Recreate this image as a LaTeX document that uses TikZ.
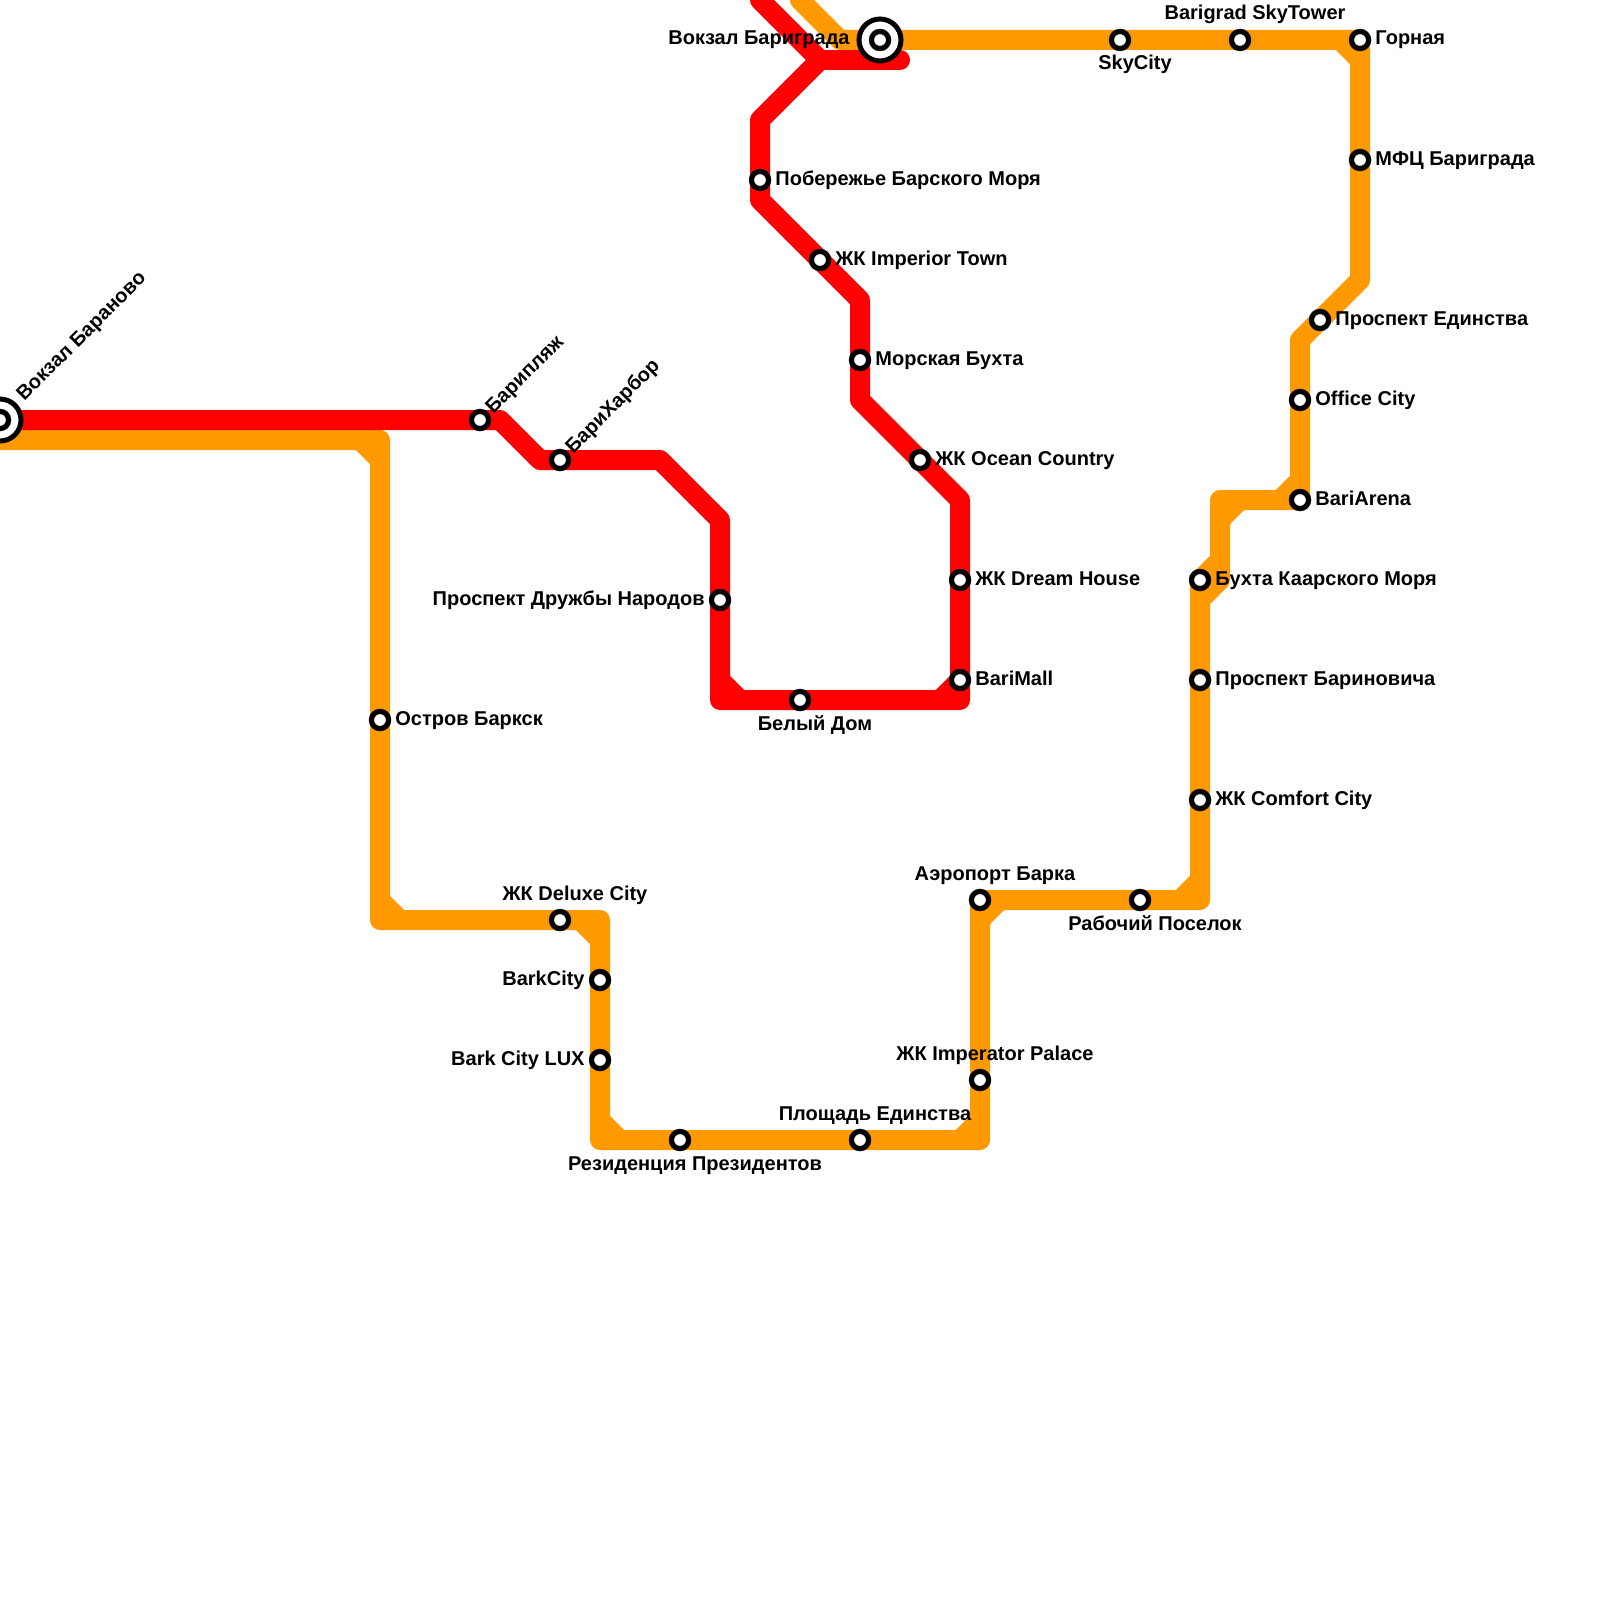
\documentclass[tikz,border=0pt]{standalone}
\usepackage{fontspec}
\setmainfont{Liberation Sans}
\usetikzlibrary{backgrounds}
\definecolor{lineorange}{HTML}{FF9900}
\definecolor{linered}{HTML}{FF0000}
\tikzset{
  x=0.5pt,y=-0.5pt,
  stn/.style={circle,draw=black,fill=white,line width=2.6pt,minimum size=8.6pt,inner sep=0pt},
  hub/.style={circle,draw=black,fill=white,line width=2.5pt,minimum size=21pt,inner sep=0pt},
  metro/.style={line width=10pt,line cap=round,line join=round},
  redline/.style={metro,draw=linered},
  orangeline/.style={metro,draw=lineorange},
  chamfer/.style={line width=10pt,line cap=butt,line join=round},
  lbl/.style={font=\bfseries\fontsize{10}{12}\selectfont,text=black,inner sep=0pt},
  lr/.style={lbl,anchor=base west,xshift=7.5pt,yshift=-2.5pt},
  ll/.style={lbl,anchor=base east,xshift=-7.5pt,yshift=-2.5pt},
  la/.style={lbl,anchor=base,xshift=7.5pt,yshift=10pt},
  lb/.style={lbl,anchor=base,xshift=7.5pt,yshift=-15pt},
  ld/.style={lbl,anchor=base west,xshift=6.5pt,yshift=2.75pt,rotate=45},
  ldhub/.style={lbl,anchor=base west,xshift=12pt,yshift=9pt,rotate=45},
}
\begin{document}
\begin{tikzpicture}
\useasboundingbox (0,0) rectangle (1600,1600);
% stations
\node[hub] (baranovoO) at (0,420) {};
\node[stn] (baranovo) at (0,420) {};
\node[stn] (baripl) at (480,420) {};
\node[stn] (barihar) at (560,460) {};
\node[stn] (druzhby) at (720,600) {};
\node[stn] (belyi) at (800,700) {};
\node[stn] (barimall) at (960,680) {};
\node[stn] (dream) at (960,580) {};
\node[stn] (ocean) at (920,460) {};
\node[stn] (morsk) at (860,360) {};
\node[stn] (imperior) at (820,260) {};
\node[stn] (pober) at (760,180) {};
\node[hub] (barigrO) at (880,40) {};
\node[stn] (barigr) at (880,40) {};
\node[stn] (sky) at (1120,40) {};
\node[stn] (tower) at (1240,40) {};
\node[stn] (gorn) at (1360,40) {};
\node[stn] (mfc) at (1360,160) {};
\node[stn] (edin) at (1320,320) {};
\node[stn] (office) at (1300,400) {};
\node[stn] (arena) at (1300,500) {};
\node[stn] (buhta) at (1200,580) {};
\node[stn] (barinov) at (1200,680) {};
\node[stn] (comfort) at (1200,800) {};
\node[stn] (raboch) at (1140,900) {};
\node[stn] (aero) at (980,900) {};
\node[stn] (palace) at (980,1080) {};
\node[stn] (plosh) at (860,1140) {};
\node[stn] (rezid) at (680,1140) {};
\node[stn] (lux) at (600,1060) {};
\node[stn] (barkc) at (600,980) {};
\node[stn] (deluxe) at (560,920) {};
\node[stn] (ostrov) at (380,720) {};
% way points
\foreach \n/\p in {
  r1/{500,420},r2/{540,460},r3/{660,460},r4/{720,520},r5/{720,700},r6/{960,700},
  r7/{960,500},r8/{860,400},r9/{860,300},r10/{760,200},r11/{760,120},r12/{820,60},
  r13/{760,0},r14/{900,60},rc1/{720,680},rc2/{740,700},rc3/{940,700},rc4/{960,680},
  o0/{0,440},o1/{380,440},o2/{380,920},o3/{600,920},o4/{600,1140},o5/{980,1140},
  o6/{980,900},o7/{1200,900},o8/{1200,600},o9/{1220,580},o10/{1220,500},o11/{1300,480},
  o12/{1300,340},o13/{1360,280},o14/{1360,40},o15/{840,40},o16/{800,0},
  c1/{360,440},c2/{380,460},c3/{380,900},c4/{400,920},c5/{580,920},c6/{600,940},
  c7/{600,1120},c8/{620,1140},c9/{960,1140},c10/{980,1120},c11/{980,920},c12/{1000,900},
  c13/{1180,900},c14/{1200,880},c15/{1220,520},c16/{1240,500},c17/{1280,500},c18/{1300,480},
  c19/{1340,40},c20/{1360,60},c21/{1200,580},c22/{1220,560}}
  {\coordinate (\n) at (\p);}
\begin{pgfonlayer}{background}
\fill[white] (0,0) rectangle (1600,1600);
% orange line
\draw[orangeline] (o0) -- (o1) -- (ostrov.center) -- (o2) -- (deluxe.center) -- (o3) -- (barkc.center) -- (lux.center) -- (o4) -- (rezid.center) -- (plosh.center) -- (o5) -- (palace.center) -- (aero.center) -- (raboch.center) -- (o7) -- (comfort.center) -- (barinov.center) -- (buhta.center) -- (o8) -- (o9) -- (o10) -- (arena.center) -- (o11) -- (office.center) -- (o12) -- (edin.center) -- (o13) -- (mfc.center) -- (gorn.center) -- (tower.center) -- (sky.center) -- (barigr.center) -- (o15) -- (o16);
\draw[chamfer,lineorange] (c1) -- (c2);
\draw[chamfer,lineorange] (c3) -- (c4);
\draw[chamfer,lineorange] (c5) -- (c6);
\draw[chamfer,lineorange] (c7) -- (c8);
\draw[chamfer,lineorange] (c9) -- (c10);
\draw[chamfer,lineorange] (c11) -- (c12);
\draw[chamfer,lineorange] (c13) -- (c14);
\draw[chamfer,lineorange] (c15) -- (c16);
\draw[chamfer,lineorange] (c17) -- (c18);
\draw[chamfer,lineorange] (c19) -- (c20);
\draw[chamfer,lineorange] (c21) -- (c22);
% red line
\draw[redline] (baranovo.center) -- (baripl.center) -- (r1) -- (r2) -- (barihar.center) -- (r3) -- (r4) -- (druzhby.center) -- (r5) -- (belyi.center) -- (r6) -- (barimall.center) -- (dream.center) -- (r7) -- (ocean.center) -- (r8) -- (morsk.center) -- (r9) -- (imperior.center) -- (r10) -- (pober.center) -- (r11) -- (r12) -- (r13);
\draw[redline] (r12) -- (r14);
\draw[chamfer,linered] (rc1) -- (rc2);
\draw[chamfer,linered] (rc3) -- (rc4);
\end{pgfonlayer}
% labels
\node[ldhub] (tBaranovo) at (baranovo.center) {Вокзал Бараново};
\node[ld] (tBaripl) at (baripl.center) {Барипляж};
\node[ld] (tBarihar) at (barihar.center) {БариХарбор};
\node[ll] (tDruzhby) at (druzhby.center) {Проспект Дружбы Народов};
\node[lb] (tBelyi) at (belyi.center) {Белый Дом};
\node[lr] (tBarimall) at (barimall.center) {BariMall};
\node[lr] (tDream) at (dream.center) {ЖК Dream House};
\node[lr] (tOcean) at (ocean.center) {ЖК Ocean Country};
\node[lr] (tMorsk) at (morsk.center) {Морская Бухта};
\node[lr] (tImperior) at (imperior.center) {ЖК Imperior Town};
\node[lr] (tPober) at (pober.center) {Побережье Барского Моря};
\node[ll,xshift=-7.5pt] (tBarigr) at (barigr.center) {Вокзал Бариграда};
\node[lb] (tSky) at (sky.center) {SkyCity};
\node[la] (tTower) at (tower.center) {Barigrad SkyTower};
\node[lr] (tGorn) at (gorn.center) {Горная};
\node[lr] (tMfc) at (mfc.center) {МФЦ Бариграда};
\node[lr] (tEdin) at (edin.center) {Проспект Единства};
\node[lr] (tOffice) at (office.center) {Office City};
\node[lr] (tArena) at (arena.center) {BariArena};
\node[lr] (tBuhta) at (buhta.center) {Бухта Каарского Моря};
\node[lr] (tBarinov) at (barinov.center) {Проспект Бариновича};
\node[lr] (tComfort) at (comfort.center) {ЖК Comfort City};
\node[lb] (tRaboch) at (raboch.center) {Рабочий Поселок};
\node[la] (tAero) at (aero.center) {Аэропорт Барка};
\node[la] (tPalace) at (palace.center) {ЖК Imperator Palace};
\node[la] (tPlosh) at (plosh.center) {Площадь Единства};
\node[lb] (tRezid) at (rezid.center) {Резиденция Президентов};
\node[ll] (tLux) at (lux.center) {Bark City LUX};
\node[ll] (tBarkc) at (barkc.center) {BarkCity};
\node[la] (tDeluxe) at (deluxe.center) {ЖК Deluxe City};
\node[lr] (tOstrov) at (ostrov.center) {Остров Баркск};
\end{tikzpicture}
\end{document}
